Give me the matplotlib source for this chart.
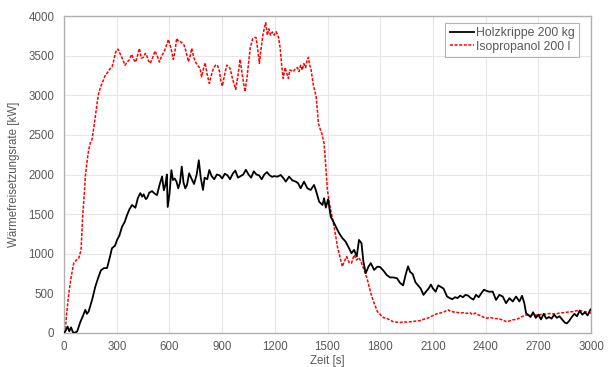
import numpy as np
import matplotlib
matplotlib.use('Agg')
import matplotlib.pyplot as plt

# Holzkrippe 200 kg (time [s], heat release rate [kW])
t_holz = [0, 10, 20, 30, 40, 50, 60, 75, 93, 105, 121, 130, 140, 160, 178, 195, 210, 226, 245, 260,
          273, 290, 302, 315, 330, 345, 359, 372, 387, 406, 420, 434, 445, 453, 465, 472, 485, 501, 515, 529,
          545, 558, 568, 577, 585, 590, 600, 611, 620, 630, 640, 650, 660, 670, 680, 690, 700, 712, 725, 740,
          755, 767, 778, 791, 800, 815, 827, 840, 855, 870, 885, 900, 915, 930, 945, 960, 975, 990, 1005, 1020,
          1035, 1050, 1065, 1080, 1095, 1110, 1125, 1140, 1155, 1170, 1185, 1196, 1215, 1233, 1250, 1262, 1281, 1300, 1319, 1332,
          1347, 1366, 1385, 1404, 1423, 1433, 1452, 1471, 1480, 1490, 1503, 1518, 1533, 1547, 1566, 1585, 1603, 1622, 1636, 1651,
          1666, 1679, 1693, 1704, 1717, 1733, 1746, 1765, 1784, 1800, 1820, 1837, 1856, 1875, 1895, 1913, 1930, 1945, 1958, 1970,
          1985, 2000, 2015, 2030, 2046, 2060, 2075, 2088, 2100, 2115, 2130, 2145, 2160, 2180, 2195, 2210, 2225, 2240, 2255, 2270,
          2285, 2300, 2315, 2330, 2345, 2360, 2375, 2390, 2405, 2420, 2440, 2459, 2478, 2497, 2516, 2535, 2554, 2573, 2592, 2607,
          2620, 2630, 2643, 2655, 2670, 2685, 2700, 2715, 2730, 2745, 2760, 2775, 2790, 2805, 2820, 2835, 2850, 2862, 2875, 2890,
          2905, 2920, 2935, 2950, 2965, 2980, 2995, 3000]
q_holz = [0, 30, 80, 20, 70, 10, 0, 20, 140, 200, 290, 240, 270, 420, 585, 700, 790, 816, 820, 950,
          1070, 1100, 1175, 1230, 1340, 1400, 1490, 1560, 1615, 1580, 1700, 1765, 1720, 1750, 1690, 1700, 1770, 1790, 1760, 1740,
          1880, 1975, 1800, 1870, 2000, 1590, 1750, 2055, 1930, 1950, 1910, 1826, 1900, 2100, 1900, 1826, 1870, 2015, 1950, 1880,
          2000, 2180, 1960, 1805, 1960, 1940, 2057, 1980, 1940, 2000, 1990, 1950, 2010, 1990, 1940, 2010, 2050, 1960, 1980, 2000,
          2060, 2000, 1960, 2040, 2000, 1990, 1940, 2000, 2030, 1990, 1970, 1980, 1973, 1994, 1950, 1910, 1973, 1925, 1910, 1890,
          1826, 1910, 1826, 1805, 1868, 1805, 1657, 1615, 1700, 1582, 1687, 1468, 1405, 1341, 1258, 1195, 1152, 1070, 1006, 1048,
          964, 1174, 1132, 900, 753, 837, 880, 795, 837, 830, 780, 730, 700, 700, 690, 630, 600, 740, 840, 770,
          740, 640, 600, 560, 480, 520, 560, 610, 560, 520, 600, 580, 560, 460, 440, 425, 450, 440, 470, 450,
          480, 470, 440, 420, 480, 450, 500, 545, 530, 520, 521, 416, 480, 459, 375, 438, 396, 459, 396, 468,
          375, 248, 227, 200, 260, 190, 230, 170, 240, 180, 200, 180, 230, 190, 210, 170, 130, 120, 150, 200,
          240, 210, 280, 230, 260, 220, 290, 300]

# Isopropanol 200 l
t_iso = [0, 5, 15, 27, 40, 55, 70, 84, 97, 106, 115, 121, 130, 140, 150, 159, 170, 178, 188, 197,
         207, 216, 226, 235, 245, 254, 263, 273, 283, 292, 300, 309, 320, 333, 347, 360, 372, 385, 397, 408,
         418, 429, 440, 452, 463, 471, 480, 491, 505, 518, 530, 543, 556, 570, 582, 594, 608, 622, 631, 641,
         652, 662, 672, 683, 695, 708, 718, 727, 737, 746, 760, 774, 783, 793, 803, 815, 827, 838, 850, 862,
         873, 885, 893, 901, 913, 926, 935, 945, 960, 977, 990, 1002, 1015, 1030, 1040, 1049, 1060, 1074, 1085, 1093,
         1103, 1112, 1122, 1131, 1140, 1148, 1157, 1166, 1175, 1186, 1196, 1207, 1220, 1230, 1240, 1248, 1258, 1265, 1277, 1285,
         1295, 1305, 1318, 1328, 1338, 1347, 1356, 1365, 1375, 1383, 1391, 1398, 1404, 1419, 1435, 1448, 1460, 1467, 1480, 1490,
         1499, 1510, 1518, 1530, 1537, 1548, 1556, 1566, 1575, 1584, 1595, 1609, 1622, 1636, 1651, 1665, 1679, 1690, 1708, 1727,
         1746, 1765, 1784, 1800, 1820, 1837, 1856, 1875, 1895, 1913, 1935, 1950, 1970, 1990, 2008, 2027, 2045, 2065, 2084, 2100,
         2120, 2141, 2160, 2175, 2188, 2200, 2215, 2235, 2255, 2275, 2292, 2310, 2325, 2340, 2355, 2368, 2385, 2406, 2425, 2445,
         2459, 2480, 2500, 2516, 2535, 2555, 2573, 2590, 2610, 2630, 2650, 2670, 2687, 2710, 2730, 2744, 2765, 2785, 2801, 2820,
         2840, 2857, 2880, 2900, 2914, 2935, 2950, 2971, 2990, 3000]
q_iso = [0, 0, 250, 500, 700, 880, 920, 943, 1050, 1470, 1750, 1970, 2150, 2310, 2400, 2440, 2600, 2730, 2900, 3025,
         3100, 3150, 3200, 3260, 3280, 3310, 3340, 3360, 3440, 3530, 3580, 3580, 3520, 3460, 3380, 3420, 3450, 3517, 3450, 3420,
         3500, 3593, 3470, 3480, 3530, 3500, 3440, 3404, 3480, 3560, 3500, 3420, 3500, 3550, 3630, 3706, 3600, 3454, 3550, 3719,
         3680, 3680, 3660, 3635, 3550, 3424, 3500, 3593, 3490, 3430, 3380, 3340, 3235, 3330, 3411, 3260, 3151, 3250, 3340, 3380,
         3382, 3300, 3180, 3117, 3250, 3380, 3370, 3340, 3200, 3075, 3250, 3454, 3250, 3046, 3200, 3380, 3600, 3719, 3730, 3730,
         3570, 3404, 3600, 3750, 3850, 3916, 3760, 3840, 3760, 3800, 3760, 3803, 3740, 3600, 3350, 3214, 3350, 3300, 3214, 3320,
         3310, 3300, 3340, 3350, 3300, 3380, 3320, 3400, 3350, 3440, 3479, 3380, 3350, 3130, 2982, 2646, 2560, 2520, 2394, 2099,
         1805, 1650, 1552, 1420, 1341, 1200, 1089, 1000, 921, 837, 900, 963, 890, 880, 984, 920, 950, 900, 795, 669,
         501, 375, 269, 230, 190, 185, 160, 140, 135, 130, 140, 135, 140, 145, 150, 155, 170, 180, 200, 220,
         240, 250, 260, 280, 290, 270, 265, 260, 250, 255, 245, 255, 230, 250, 230, 220, 200, 185, 195, 185,
         180, 175, 160, 143, 150, 165, 170, 185, 210, 227, 215, 225, 225, 230, 240, 235, 245, 240, 240, 250,
         255, 260, 265, 270, 278, 282, 275, 265, 255, 250]

grey = '#595959'
plt.rcParams['font.family'] = ['Liberation Sans', 'DejaVu Sans']
plt.rcParams['font.size'] = 8

fig = plt.figure(figsize=(6.1, 3.67), dpi=100)
ax = fig.add_axes([0.105, 0.093, 0.864, 0.863])

ax.plot(t_holz, q_holz, color='black', lw=1.3, label='Holzkrippe 200 kg', zorder=3)
ax.plot(t_iso, q_iso, color='#ff0000', lw=1.1, ls=(0, (2, 1)), label='Isopropanol 200 l', zorder=2)

ax.set_xlim(0, 3000)
ax.set_ylim(0, 4000)
ax.set_xticks(np.arange(0, 3001, 300))
ax.set_yticks(np.arange(0, 4001, 500))
ax.grid(True, color='#e6e6e6', lw=0.8)
ax.set_axisbelow(True)
ax.tick_params(axis='y', length=0, colors=grey, labelsize=8.3, pad=7)
ax.tick_params(axis='x', length=0, colors=grey, labelsize=8.3, pad=6)
for s in ax.spines.values():
    s.set_color('#b0b0b0')
    s.set_linewidth(1.0)

ax.set_xlabel('Zeit [s]', color=grey, fontsize=8.3)
ax.xaxis.set_label_coords(0.5, -0.07)
ax.set_ylabel('Wärmefreisetzungsrate [kW]', color=grey, fontsize=8.3, labelpad=6)

leg = ax.legend(loc='upper right', fontsize=8.8, frameon=True, fancybox=False,
                edgecolor='#a0a0a0', handlelength=2.0, handletextpad=0.15,
                borderpad=0.35, labelspacing=0.1, borderaxespad=0,
                bbox_to_anchor=(0.977, 0.978))
leg.get_frame().set_linewidth(0.8)
for txt in leg.get_texts():
    txt.set_color(grey)

fig.savefig('out.png', dpi=100)
